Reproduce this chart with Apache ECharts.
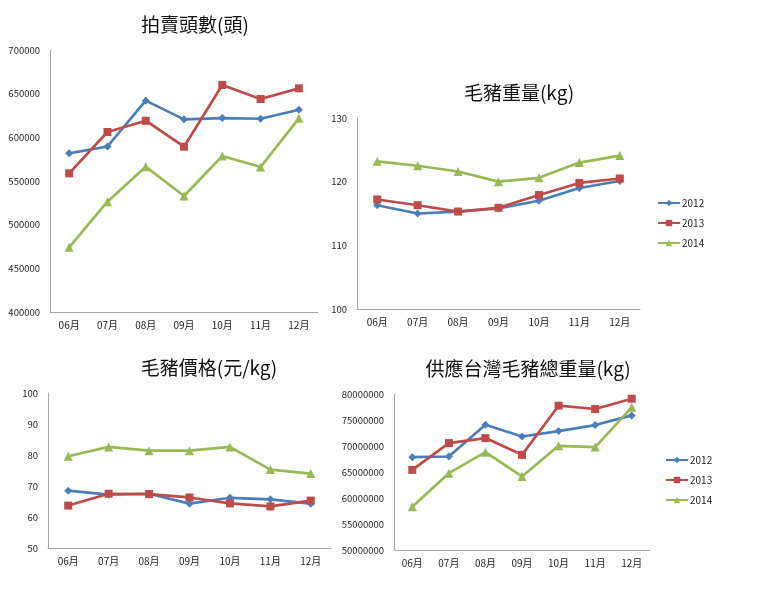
<!DOCTYPE html>
<html><head><meta charset="utf-8">
<script src="https://cdn.jsdelivr.net/npm/echarts@6/dist/echarts.min.js"></script>
<style>html,body{margin:0;padding:0;background:#fff}#c{width:761px;height:600px}</style>
</head><body><div id="c"></div>
<script>
const months = ['06月','07月','08月','09月','10月','11月','12月'];
const years = ['2012','2013','2014'];

const auction2012 = [581700, 589500, 642000, 620600, 622100, 621300, 631600];
const auction2013 = [558800, 606100, 619000, 589300, 660000, 643900, 656100];
const auction2014 = [474100, 526300, 566400, 532800, 578600, 566000, 621800];

const weight2012 = [116.3, 115.0, 115.3, 115.8, 117.0, 119.0, 120.1];
const weight2013 = [117.2, 116.3, 115.3, 115.9, 117.9, 119.8, 120.5];
const weight2014 = [123.2, 122.5, 121.6, 120.0, 120.6, 123.0, 124.1];

const price2012 = [68.5, 67.2, 67.5, 64.3, 66.2, 65.7, 64.3];
const price2013 = [63.7, 67.5, 67.4, 66.3, 64.4, 63.4, 65.3];
const price2014 = [79.6, 82.6, 81.4, 81.4, 82.6, 75.3, 74.0];

const total2012 = [67860000, 67980000, 74080000, 71830000, 72870000, 74030000, 75880000];
const total2013 = [65410000, 70560000, 71520000, 68300000, 77750000, 77110000, 79090000];
const total2014 = [58340000, 64780000, 68820000, 64140000, 70040000, 69790000, 77430000];

const titles = ['拍賣頭數(頭)', '毛豬重量(kg)', '毛豬價格(元/kg)', '供應台灣毛豬總重量(kg)'];

const colors = ['#4A7EBB', '#BE4B48', '#98B954'];
const symbols = ['diamond', 'rect', 'triangle'];
const symSizes = [8, 8, 9];
const FONT = '"Noto Sans CJK TC", "DejaVu Sans", sans-serif';

const grids = [
  {left: 50, top: 50, width: 268, height: 262},
  {left: 357, top: 118, width: 283, height: 191},
  {left: 48, top: 393, width: 283, height: 155},
  {left: 394, top: 394, width: 256, height: 156}
];
const yRanges = [
  {min: 400000, max: 700000, interval: 50000},
  {min: 100, max: 130, interval: 10},
  {min: 50, max: 100, interval: 10},
  {min: 50000000, max: 80000000, interval: 5000000}
];
const dataSets = [
  [auction2012, auction2013, auction2014],
  [weight2012, weight2013, weight2014],
  [price2012, price2013, price2014],
  [total2012, total2013, total2014]
];
const titlePos = [[195, 25], [519, 93], [209, 368], [528, 369]];

const xAxis = grids.map((g, i) => ({
  type: 'category', gridIndex: i, data: months, boundaryGap: true,
  axisLine: {lineStyle: {color: '#A6A6A6', width: 1}},
  axisTick: {show: false},
  axisLabel: {color: '#222', fontSize: 10, fontFamily: FONT, margin: 8}
}));
const yAxis = grids.map((g, i) => Object.assign({
  type: 'value', gridIndex: i,
  axisLine: {show: true, lineStyle: {color: '#A6A6A6', width: 1}},
  axisTick: {show: false},
  splitLine: {show: false},
  axisLabel: {color: '#222', fontSize: 9.5, fontFamily: FONT, margin: 10,
    formatter: v => String(v)}
}, yRanges[i]));

const series = [];
dataSets.forEach((ds, gi) => {
  ds.forEach((d, si) => {
    series.push({
      type: 'line', name: years[si], xAxisIndex: gi, yAxisIndex: gi, data: d,
      symbol: symbols[si], symbolSize: symSizes[si], showSymbol: true,
      itemStyle: {color: colors[si]},
      lineStyle: {color: colors[si], width: 2.7},
      animation: false, z: 2 + si
    });
  });
});

const legendBase = {
  orient: 'vertical', itemWidth: 22, itemHeight: 8, itemGap: 10, padding: 0,
  data: years, selectedMode: false,
  textStyle: {fontSize: 10, color: '#222', fontFamily: FONT, padding: [0, 0, 0, -3]}
};

const chart = echarts.init(document.getElementById('c'), null, {renderer: 'canvas'});
chart.setOption({
  animation: false,
  backgroundColor: '#fff',
  grid: grids,
  xAxis: xAxis,
  yAxis: yAxis,
  series: series,
  legend: [
    Object.assign({left: 657, top: 198}, legendBase),
    Object.assign({left: 665, top: 455}, legendBase)
  ],
  graphic: titles.map((t, i) => ({
    type: 'text', x: titlePos[i][0], y: titlePos[i][1],
    style: {text: t, fill: '#111', font: '19px ' + FONT, textAlign: 'center', textVerticalAlign: 'middle'}
  }))
});
</script>
</body></html>
